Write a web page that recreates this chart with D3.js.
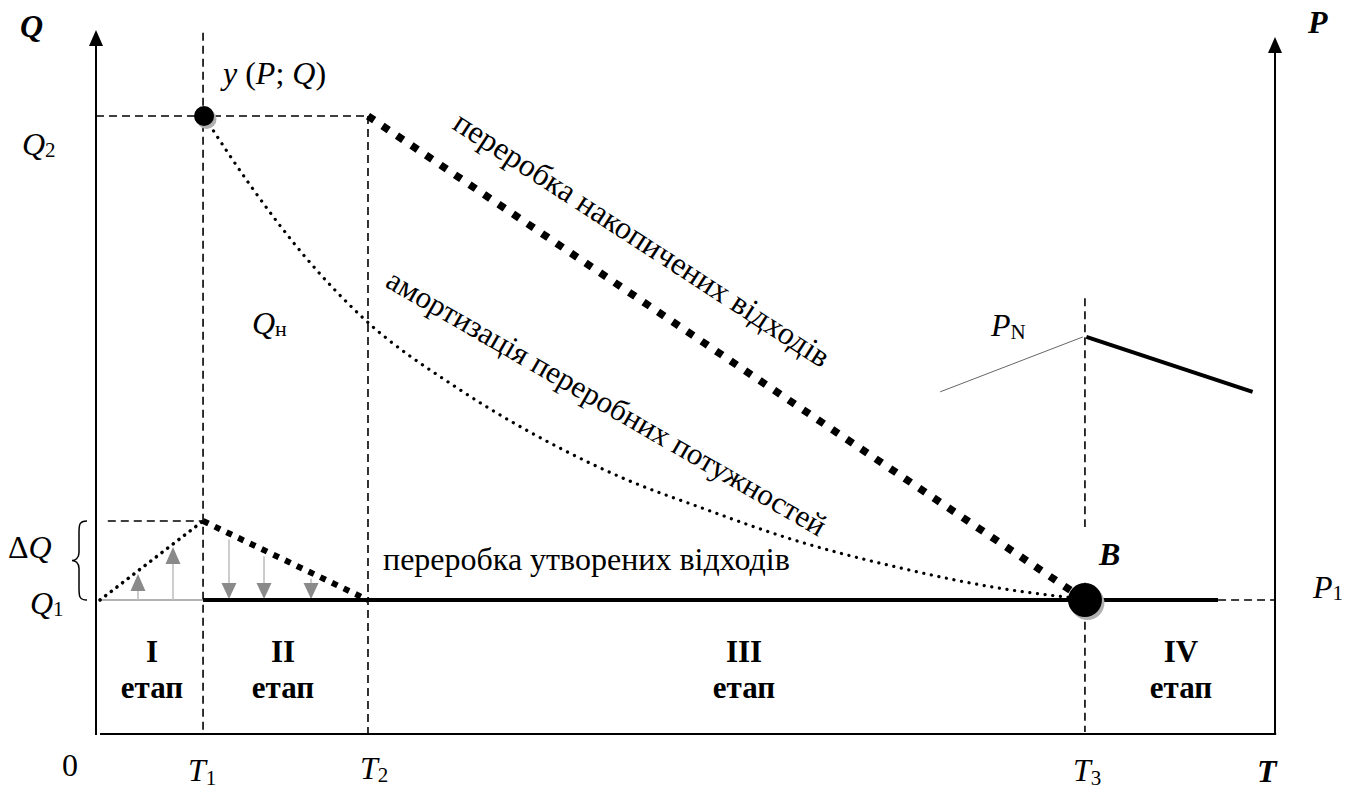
<!DOCTYPE html>
<html>
<head>
<meta charset="utf-8">
<script src="https://cdn.jsdelivr.net/npm/d3@7/dist/d3.min.js"></script>
<style>
  html, body { margin: 0; padding: 0; background: #fff; }
  svg { display: block; }
  text { font-family: "Liberation Serif", "Times New Roman", serif; fill: #000; }
</style>
</head>
<body>
<svg id="chart" width="1352" height="792"></svg>
<script>
// ---------------- DATA (chart units: T along x, Q/P along y, both 0..100) ----------------
const timeMarks = [9.08, 23.07, 83.88];          // T1, T2, T3
const timeLabels = ["1", "2", "3"];
const qLevels = [19.03, 30.26, 87.78];           // Q1 (=P1), Q1+ΔQ, Q2
const startT = 0.34;                              // start of the Q1 baseline
const endSolidT = 95.17;                          // end of the solid P1 line
// amortisation of processing capacity (dotted curve), [T, Q]
const amortCurve = [
  [9.25, 87.5], [13.06, 78.0], [17.73, 67.8], [22.65, 59.1], [30.87, 48.9],
  [39.36, 40.6], [45.04, 36.1], [51.23, 32.2], [59.12, 27.6], [68.19, 23.6],
  [76.68, 20.7], [83.04, 19.3]
];
// P_N broken line: thin rising part and thick falling part, [T, P]
const pnRise = [[71.6, 48.6], [83.7, 56.4]];
const pnFall = [[84.0, 56.4], [98.1, 48.6]];
const upArrowT = [3.56, 6.53];
const downArrowT = [11.28, 14.25, 18.24];
// T3 dashed guide: two visible pieces [from Q, to Q]
const t3Guide = [[61.9, 29.4], [21.5, 0.3]];
const stageRoman = ["I", "II", "III", "IV"];
const stageWord = "етап";
const stageCenters = [152, 283, 744, 1181];

// ---------------- SCALES ----------------
const svg = d3.select("#chart");
const x = d3.scaleLinear().domain([0, 100]).range([96, 1275]);
const y = d3.scaleLinear().domain([0, 100]).range([734, 30]);
const line = d3.line().x(d => x(d[0])).y(d => y(d[1]));

const [T1, T2, T3] = timeMarks;
const [Q1, Qtop, Q2] = qLevels;

const g = svg.append("g");

// ---------------- guides (thin dashed) ----------------
const dashed = { stroke: "#000", "stroke-width": 1.6, "stroke-dasharray": "8,5", fill: "none" };
function addLine(pts, attrs) {
  const p = g.append("path").attr("d", line(pts));
  Object.entries(attrs).forEach(([k, v]) => p.attr(k, v));
  return p;
}
addLine([[T1, 99.6], [T1, 0]], dashed);
addLine([[T2, Q2], [T2, 0]], dashed);
addLine([[0, Q2], [T2, Q2]], dashed);
addLine([[1.0, Qtop], [T1, Qtop]], dashed);
t3Guide.forEach(s => addLine([[T3, s[0]], [T3, s[1]]], dashed));
addLine([[endSolidT, Q1], [100, Q1]], dashed);

// ---------------- axes ----------------
g.append("line").attr("x1", x(0)).attr("x2", x(0)).attr("y1", y(-0.15)).attr("y2", y(97.8))
  .attr("stroke", "#000").attr("stroke-width", 2);
g.append("line").attr("x1", x(100)).attr("x2", x(100)).attr("y1", y(0)).attr("y2", y(96.8))
  .attr("stroke", "#000").attr("stroke-width", 2);
g.append("line").attr("x1", x(0.34)).attr("x2", x(100.1)).attr("y1", y(0)).attr("y2", y(0))
  .attr("stroke", "#000").attr("stroke-width", 2.2);
function arrowHead(cx, tipY, w, h, color) {
  g.append("path")
    .attr("d", `M${cx},${tipY} L${cx - w / 2},${tipY + h} L${cx + w / 2},${tipY + h} Z`)
    .attr("fill", color);
}
arrowHead(x(0), y(100), 14, 16, "#000");
arrowHead(x(100), y(99), 14, 16, "#000");

// ---------------- stage I / II detail ----------------
addLine([[startT, Q1], [T1, Q1]], { stroke: "#999", "stroke-width": 1.6, fill: "none" });
addLine([[startT, Q1], [T1, Qtop]], { stroke: "#000", "stroke-width": 3.6, "stroke-dasharray": "0.1,7",
  "stroke-linecap": "round", fill: "none" });
addLine([[T1, Qtop], [T2, Q1]], { stroke: "#000", "stroke-width": 6, "stroke-dasharray": "6,7", fill: "none" });

const riseAt = t => Q1 + (Qtop - Q1) * (t - startT) / (T1 - startT);
const fallAt = t => Qtop + (Q1 - Qtop) * (t - T1) / (T2 - T1);
upArrowT.forEach(t => {
  const tip = y(riseAt(t)) + 3;
  g.append("line").attr("x1", x(t)).attr("x2", x(t)).attr("y1", y(Q1)).attr("y2", tip + 16)
    .attr("stroke", "#c0c0c0").attr("stroke-width", 1.6);
  arrowHead(x(t), tip, 15, 17, "#8a8a8a");
});
downArrowT.forEach(t => {
  const top = y(fallAt(t)) + 6;
  const tip = y(Q1) - 1;
  g.append("line").attr("x1", x(t)).attr("x2", x(t)).attr("y1", top).attr("y2", tip - 15)
    .attr("stroke", "#c0c0c0").attr("stroke-width", 1.6);
  g.append("path")
    .attr("d", `M${x(t)},${tip} L${x(t) - 7.5},${tip - 16} L${x(t) + 7.5},${tip - 16} Z`)
    .attr("fill", "#8a8a8a");
});

// ---------------- main lines ----------------
addLine([[T1, Q1], [endSolidT, Q1]], { stroke: "#000", "stroke-width": 4, fill: "none" });
addLine([[T2, Q2], [T3, Q1]], { stroke: "#000", "stroke-width": 7.5, "stroke-dasharray": "7.5,10", fill: "none" });
g.append("path").attr("d", d3.line().x(d => x(d[0])).y(d => y(d[1])).curve(d3.curveMonotoneX)(amortCurve))
  .attr("stroke", "#000").attr("stroke-width", 3.2).attr("stroke-dasharray", "0.1,7.6")
  .attr("stroke-linecap", "round").attr("fill", "none");
addLine(pnRise, { stroke: "#666", "stroke-width": 1, fill: "none" });
addLine(pnFall, { stroke: "#000", "stroke-width": 4, fill: "none" });

// ---------------- points ----------------
function dot(cx, cy, r) {
  g.append("circle").attr("cx", cx + 2.5).attr("cy", cy + 3).attr("r", r).attr("fill", "#b0b0b0");
  g.append("circle").attr("cx", cx).attr("cy", cy).attr("r", r).attr("fill", "#000");
}
dot(x(T1) + 1, y(Q2), 10);
dot(x(T3), y(Q1), 17);

// ---------------- text ----------------
const FS = 32;
function label(px, py, parts, opts = {}) {
  const t = svg.append("text").attr("x", px).attr("y", py).attr("font-size", opts.size || FS);
  if (opts.anchor) t.attr("text-anchor", opts.anchor);
  if (opts.rotate) t.attr("transform", `rotate(${opts.rotate},${px},${py})`);
  parts.forEach(p => {
    const s = t.append("tspan").text(p.t);
    if (p.i) s.attr("font-style", "italic");
    if (p.b) s.attr("font-weight", "bold");
    if (p.sub) s.attr("font-size", p.size || 21).attr("dy", p.dy != null ? p.dy : 4);
  });
  return t;
}
label(20, 37, [{ t: "Q", i: 1, b: 1 }]);
label(1308, 33, [{ t: "P", i: 1, b: 1 }]);
label(1257, 782, [{ t: "T", i: 1, b: 1 }]);
label(62, 776, [{ t: "0" }]);
label(188, 781, [{ t: "T", i: 1 }, { t: timeLabels[0], sub: 1, dy: 4 }]);
label(360, 779, [{ t: "T", i: 1 }, { t: timeLabels[1], sub: 1, dy: 3 }]);
label(1073, 781, [{ t: "T", i: 1 }, { t: timeLabels[2], sub: 1, dy: 4 }]);
label(22, 155, [{ t: "Q", i: 1 }, { t: "2", sub: 1, dy: 2 }]);
label(30, 614, [{ t: "Q", i: 1 }, { t: "1", sub: 1, dy: 2 }]);
label(8, 558, [{ t: "Δ" }, { t: "Q", i: 1 }]);
label(1313, 598, [{ t: "P", i: 1 }, { t: "1", sub: 1, dy: 2 }]);
label(991, 336, [{ t: "P", i: 1 }, { t: "N", sub: 1, dy: 3 }]);
label(252, 334, [{ t: "Q", i: 1 }, { t: "н", sub: 1, dy: 2, size: 22 }]);
label(223, 84, [{ t: "y", i: 1 }, { t: " (" }, { t: "P", i: 1 }, { t: "; " }, { t: "Q", i: 1 }, { t: ")" }]);
label(1099, 565, [{ t: "B", i: 1, b: 1 }]);

stageRoman.forEach((r, i) => {
  label(stageCenters[i], 662, [{ t: r, b: 1 }], { anchor: "middle", size: 31 });
  label(stageCenters[i], 698, [{ t: stageWord, b: 1 }], { anchor: "middle", size: 31 });
});

label(383, 570, [{ t: "переробка утворених відходів" }]);
label(451, 128, [{ t: "переробка накопичених відходів" }], { rotate: 33 });
label(384, 286, [{ t: "амортизація переробних потужностей" }], { rotate: 30, size: 31 });

// ΔQ brace
const bx = 87, bTop = y(Qtop), bBot = y(Q1), bMid = (bTop + bBot) / 2;
svg.append("path")
  .attr("d", `M${bx},${bTop} C${bx - 8},${bTop} ${bx - 8},${bTop + 4} ${bx - 8},${bTop + 12}
              L${bx - 8},${bMid - 8} C${bx - 8},${bMid - 2} ${bx - 12},${bMid} ${bx - 15},${bMid}
              C${bx - 12},${bMid} ${bx - 8},${bMid + 2} ${bx - 8},${bMid + 8}
              L${bx - 8},${bBot - 12} C${bx - 8},${bBot - 4} ${bx - 8},${bBot} ${bx},${bBot}`)
  .attr("fill", "none").attr("stroke", "#000").attr("stroke-width", 1.5);
</script>
</body>
</html>
